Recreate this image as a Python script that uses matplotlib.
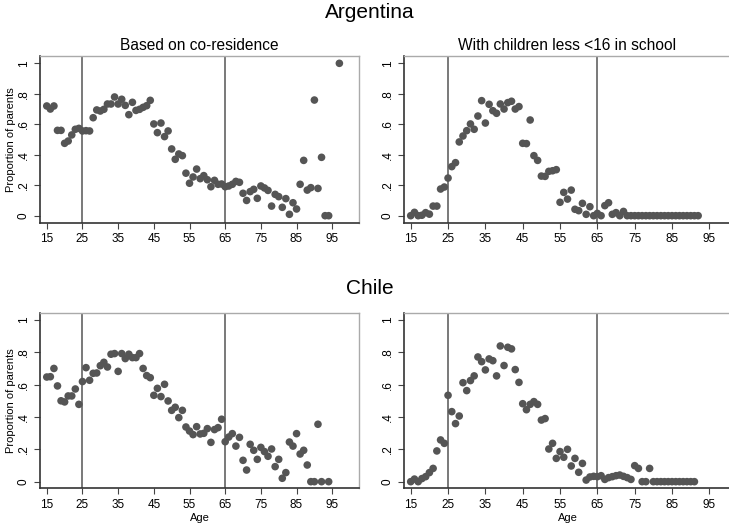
import matplotlib
matplotlib.use("Agg")
import matplotlib.pyplot as plt
import numpy as np

plt.rcParams['font.family'] = ['Liberation Sans', 'DejaVu Sans']

# Argentina, based on co-residence
arg_cores_age = list(range(15, 95)) + [97]
arg_cores = [0.72, 0.70, 0.72, 0.56, 0.56, 0.475, 0.49, 0.53, 0.567, 0.573,
             0.556, 0.558, 0.556, 0.643, 0.694, 0.687, 0.698, 0.733, 0.733, 0.779,
             0.733, 0.764, 0.724, 0.663, 0.744, 0.691, 0.698, 0.711, 0.722, 0.757,
             0.602, 0.545, 0.608, 0.519, 0.556, 0.438, 0.37, 0.405, 0.394, 0.279,
             0.213, 0.254, 0.306, 0.243, 0.263, 0.236, 0.19, 0.232, 0.206, 0.208,
             0.19, 0.195, 0.206, 0.225, 0.219, 0.147, 0.10, 0.158, 0.173, 0.114,
             0.195, 0.182, 0.166, 0.063, 0.14, 0.125, 0.055, 0.112, 0.009, 0.085,
             0.044, 0.206, 0.363, 0.168, 0.184, 0.759, 0.179, 0.383, 0.0, 0.0,
             1.0]

# Argentina, with children <16 in school
arg_school_age = list(range(15, 93))
arg_school = [0.0, 0.022, 0.0, 0.003, 0.02, 0.01, 0.063, 0.063, 0.175, 0.188,
              0.247, 0.322, 0.348, 0.484, 0.523, 0.558, 0.602, 0.567, 0.654, 0.755,
              0.608, 0.731, 0.689, 0.672, 0.733, 0.70, 0.742, 0.751, 0.70, 0.716,
              0.475, 0.473, 0.628, 0.394, 0.363, 0.26, 0.258, 0.291, 0.295, 0.302,
              0.088, 0.153, 0.109, 0.168, 0.042, 0.033, 0.081, 0.009, 0.059, 0.0,
              0.015, 0.0, 0.066, 0.085, 0.009, 0.02, 0.0, 0.028] + [0.0] * 20

# Chile, based on co-residence
chl_cores_age = list(range(15, 93)) + [94]
chl_cores = [0.647, 0.649, 0.70, 0.592, 0.50, 0.493, 0.53, 0.53, 0.573, 0.478,
             0.619, 0.705, 0.627, 0.67, 0.672, 0.717, 0.738, 0.709, 0.788, 0.792,
             0.682, 0.792, 0.761, 0.788, 0.767, 0.767, 0.792, 0.70, 0.656, 0.643,
             0.534, 0.577, 0.526, 0.602, 0.499, 0.441, 0.46, 0.396, 0.441, 0.338,
             0.313, 0.291, 0.34, 0.295, 0.299, 0.328, 0.243, 0.322, 0.334, 0.386,
             0.247, 0.276, 0.297, 0.22, 0.274, 0.132, 0.072, 0.231, 0.194, 0.138,
             0.212, 0.186, 0.157, 0.202, 0.093, 0.138, 0.021, 0.056, 0.245, 0.22,
             0.297, 0.171, 0.194, 0.103, 0.0, 0.0, 0.355, 0.0,
             0.0]

# Chile, with children <16 in school
chl_school_age = list(range(15, 92))
chl_school = [0.0, 0.016, 0.0, 0.019, 0.031, 0.056, 0.082, 0.19, 0.258, 0.237,
              0.534, 0.433, 0.359, 0.406, 0.612, 0.563, 0.625, 0.654, 0.771, 0.742,
              0.691, 0.759, 0.748, 0.654, 0.839, 0.718, 0.831, 0.821, 0.693, 0.614,
              0.482, 0.445, 0.478, 0.495, 0.478, 0.381, 0.39, 0.202, 0.237, 0.144,
              0.186, 0.151, 0.20, 0.097, 0.144, 0.058, 0.113, 0.01, 0.029, 0.033,
              0.031, 0.037, 0.014, 0.025, 0.031, 0.037, 0.041, 0.033, 0.025, 0.014,
              0.099, 0.082, 0.0, 0.0, 0.082] + [0.0] * 12

xticks = list(range(15, 100, 10))
yticks = [0, 0.2, 0.4, 0.6, 0.8, 1]
ytick_labels = ['0', '.2', '.4', '.6', '.8', '1']

W, H = 729, 525
fig = plt.figure(figsize=(W / 100, H / 100), dpi=100)


def box(l, t, r, b):
    return [l / W, 1 - b / H, (r - l) / W, (b - t) / H]


def panel(rect, ages, vals, xlim, ylim, ylabel=False, xlabel=False):
    ax = fig.add_axes(rect)
    ax.axvline(25, color='#555555', lw=1.1, zorder=1)
    ax.axvline(65, color='#555555', lw=1.1, zorder=1)
    ax.scatter(ages, vals, s=30, color='#555555', edgecolors='none', zorder=3)
    ax.set_xlim(*xlim)
    ax.set_ylim(*ylim)
    ax.set_xticks(xticks)
    ax.set_xticklabels([str(v) for v in xticks], fontsize=8.5)
    ax.set_yticks(yticks)
    ax.set_yticklabels(ytick_labels, fontsize=8.5, rotation=90, va='center')
    ax.tick_params(direction='out', length=4, width=0.8, color='#444444', pad=3.5)
    for s in ['left', 'bottom']:
        ax.spines[s].set_color('#333333')
        ax.spines[s].set_linewidth(1.2)
    for s in ['top', 'right']:
        ax.spines[s].set_color('#aaaaaa')
        ax.spines[s].set_linewidth(1.0)
    if ylabel:
        ax.set_ylabel('Proportion of parents', fontsize=8, labelpad=1)
    if xlabel:
        ax.set_xlabel('Age', fontsize=8, labelpad=1.5)
    return ax


top_ylim = (-0.046, 1.048)
bot_ylim = (-0.041, 1.041)
left_xlim = (13.1, 102.5)
right_xlim = (13.2, 100.8)

ax1 = panel(box(40, 56, 359, 222.7), arg_cores_age, arg_cores, left_xlim, top_ylim, ylabel=True)
ax2 = panel(box(404, 56, 731, 222.7), arg_school_age, arg_school, right_xlim, top_ylim)
ax3 = panel(box(40, 313.3, 359, 488.3), chl_cores_age, chl_cores, left_xlim, bot_ylim, ylabel=True, xlabel=True)
ax4 = panel(box(404, 313.3, 731, 488.3), chl_school_age, chl_school, right_xlim, bot_ylim, xlabel=True)

ax1.set_title('Based on co-residence', fontsize=11.2, pad=4)
ax2.set_title('With children less <16 in school', fontsize=11.2, pad=4)

fig.text(370 / W, 1 - 13 / H, 'Argentina', ha='center', va='center', fontsize=15)
fig.text(370 / W, 1 - 288 / H, 'Chile', ha='center', va='center', fontsize=15)

fig.savefig('out.png', dpi=100)
